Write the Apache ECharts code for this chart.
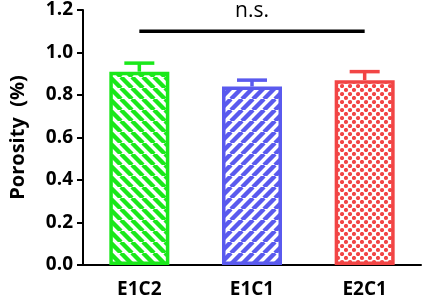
<!DOCTYPE html>
<html>
<head>
<meta charset="utf-8">
<script src="https://cdn.jsdelivr.net/npm/echarts@6/dist/echarts.min.js"></script>
<style>
  html, body { margin: 0; padding: 0; background: #fff; }
  #chart { width: 429px; height: 300px; }
</style>
</head>
<body>
<div id="chart"></div>
<script>
  // data
  var groups = ['E1C2', 'E1C1', 'E2C1']
  var means = [0.91, 0.84, 0.87]
  var errUpper = [0.95, 0.87, 0.91]
  var yTicks = [0, 0.2, 0.4, 0.6, 0.8, 1.0, 1.2]
  var sigBracket = [[0, 2, 1.1]]
  var sigText = 'n.s.'

  var colors = ['#1ae81a', '#5a5aee', '#f24545']

  // hatch fills, like the Prism pattern bars
  function stripes (color, dir) {
    var c = document.createElement('canvas')
    var s = 11
    c.width = s
    c.height = s
    var ctx = c.getContext('2d')
    ctx.fillStyle = '#fff'
    ctx.fillRect(0, 0, s, s)
    ctx.strokeStyle = color
    ctx.lineWidth = 4.4
    ctx.beginPath()
    for (var k = -1; k <= 1; k++) {
      if (dir > 0) {
        ctx.moveTo(k * s, s)
        ctx.lineTo(k * s + s, 0)
      } else {
        ctx.moveTo(k * s, 0)
        ctx.lineTo(k * s + s, s)
      }
    }
    ctx.stroke()
    return c
  }
  function dots (color) {
    var c = document.createElement('canvas')
    var s = 8
    c.width = s
    c.height = s
    var ctx = c.getContext('2d')
    ctx.fillStyle = '#fff'
    ctx.fillRect(0, 0, s, s)
    ctx.fillStyle = color
    var pts = [[2, 2], [6, 6]]
    pts.forEach(function (p) {
      ctx.beginPath()
      ctx.arc(p[0], p[1], 2.1, 0, Math.PI * 2)
      ctx.fill()
    })
    return c
  }
  var fills = [
    {image: stripes(colors[0], -1), repeat: 'repeat'},
    {image: stripes(colors[1], 1), repeat: 'repeat'},
    {image: dots(colors[2]), repeat: 'repeat'}
  ]

  var labelFont = {color: '#000', fontWeight: 'bold', fontFamily: 'Open Sans', fontSize: 19}

  var myChart = echarts.init(document.getElementById('chart'))
  myChart.setOption({
    animation: false,
    grid: {left: 72, right: 8, top: 10, bottom: 35},
    xAxis: {
      type: 'category',
      data: groups,
      axisLine: {lineStyle: {color: '#000', width: 2}},
      axisTick: {alignWithLabel: true, length: 6, lineStyle: {color: '#000', width: 2}},
      axisLabel: Object.assign({margin: 15}, labelFont)
    },
    yAxis: {
      type: 'value',
      min: yTicks[0],
      max: yTicks[yTicks.length - 1],
      interval: 0.2,
      name: 'Porosity  (%)',
      nameLocation: 'middle',
      nameGap: 55,
      nameTextStyle: {color: '#000', fontWeight: 'bold', fontFamily: 'Open Sans', fontSize: 20},
      splitLine: {show: false},
      axisLine: {show: true, lineStyle: {color: '#000', width: 2}},
      axisTick: {show: true, length: 6, lineStyle: {color: '#000', width: 2}},
      axisLabel: Object.assign({
        margin: 10,
        formatter: function (v) { return v.toFixed(1) }
      }, labelFont)
    },
    series: [
      {
        type: 'bar',
        barWidth: 60,
        data: means.map(function (v, i) {
          return {
            value: v,
            itemStyle: {color: fills[i], borderColor: colors[i], borderWidth: 3.5}
          }
        })
      },
      {
        // upper error bars
        type: 'custom',
        data: means.map(function (v, i) { return [i, v, errUpper[i]] }),
        encode: {x: 0, y: [1, 2]},
        z: 1,
        renderItem: function (params, api) {
          var i = api.value(0)
          var base = api.coord([i, api.value(1)])
          var top = api.coord([i, api.value(2)])
          var half = 15
          var st = {stroke: colors[i], lineWidth: 3.5}
          return {
            type: 'group',
            children: [
              {type: 'line', shape: {x1: base[0], y1: base[1], x2: top[0], y2: top[1]}, style: st},
              {type: 'line', shape: {x1: top[0] - half, y1: top[1], x2: top[0] + half, y2: top[1]}, style: st}
            ]
          }
        }
      },
      {
        // significance bracket
        type: 'custom',
        data: sigBracket,
        encode: {x: [0, 1], y: 2},
        renderItem: function (params, api) {
          var a = api.coord([api.value(0), api.value(2)])
          var b = api.coord([api.value(1), api.value(2)])
          return {
            type: 'group',
            children: [
              {type: 'line', shape: {x1: a[0], y1: a[1], x2: b[0], y2: b[1]}, style: {stroke: '#000', lineWidth: 3.5}},
              {
                type: 'text',
                x: (a[0] + b[0]) / 2,
                y: a[1] - 10,
                style: {
                  text: sigText,
                  fill: '#000',
                  font: '21px "Open Sans"',
                  textAlign: 'center',
                  textVerticalAlign: 'bottom'
                }
              }
            ]
          }
        }
      }
    ]
  })
</script>
</body>
</html>
